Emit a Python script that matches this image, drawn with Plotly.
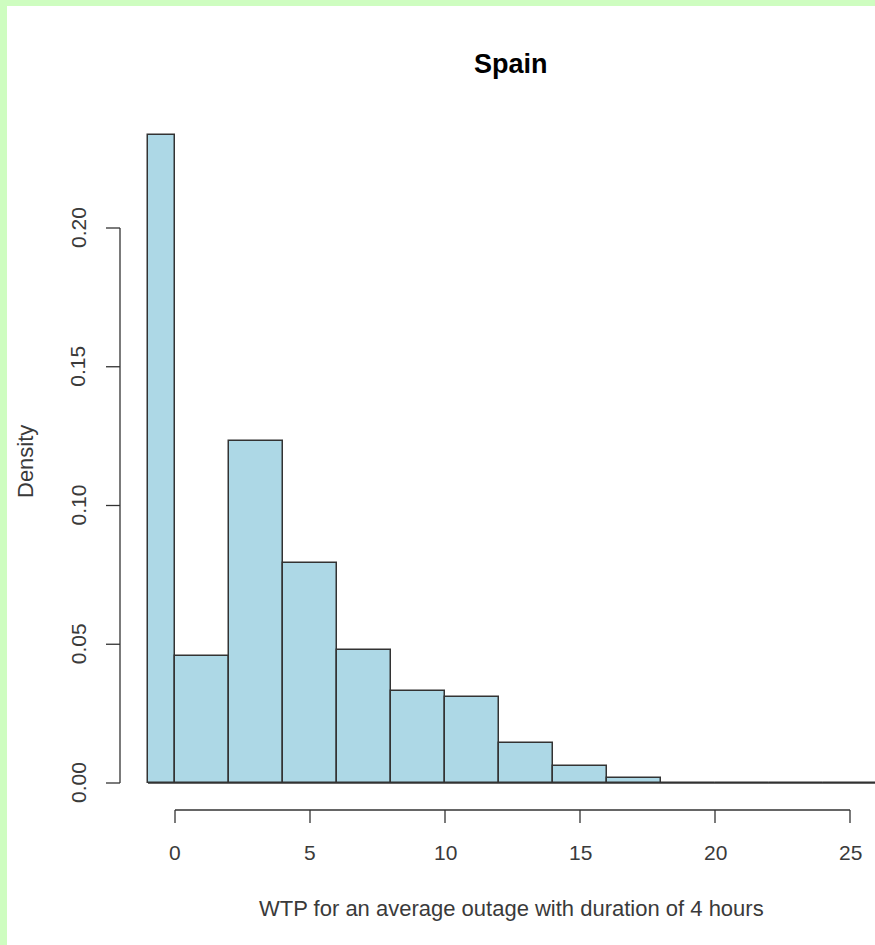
import plotly.graph_objects as go

# ---- data ----
bin_edges = [-1, 0, 2, 4, 6, 8, 10, 12, 14, 16, 18, 20, 22, 24, 26]
density = [0.2335, 0.0458, 0.1232, 0.0793, 0.0479, 0.0332, 0.0310, 0.0144,
           0.0062, 0.0018, 0.0, 0.0, 0.0, 0.0]
x_ticks = [0, 5, 10, 15, 20, 25]
y_ticks = [0.00, 0.05, 0.10, 0.15, 0.20]
y_tick_labels = ["0.00", "0.05", "0.10", "0.15", "0.20"]
title = "Spain"
x_title = "WTP for an average outage with duration of 4 hours"
y_title = "Density"

# ---- layout geometry (pixel mapping) ----
W, H = 875, 945
ML, MT = 7, 6
X0PX, XSCALE = 175.0, 27.0      # pixel of x=0, pixels per unit
Y0PX, YSCALE = 783.0, 2775.0    # pixel of y=0, pixels per unit


def px2x(px):
    return (px - X0PX) / XSCALE


def px2y(py):
    return (Y0PX - py) / YSCALE


AX = "#333333"
TXT = "#3a3a3a"
FONT = "Liberation Sans, Arial, sans-serif"

centers = [(a + b) / 2 for a, b in zip(bin_edges[:-1], bin_edges[1:])]
widths = [b - a for a, b in zip(bin_edges[:-1], bin_edges[1:])]

fig = go.Figure()
fig.add_trace(go.Bar(
    x=centers, y=density, width=widths,
    marker=dict(color="#ADD8E6", line=dict(color=AX, width=1.5)),
    hoverinfo="skip",
))

shapes = []
# baseline of the histogram (zero-height bins)
shapes.append(dict(type="line", x0=bin_edges[0], x1=bin_edges[-1], y0=0, y1=0,
                   line=dict(color=AX, width=1.5), layer="above"))

# y axis
yax_x = px2x(120)
ytick_x = px2x(106)
shapes.append(dict(type="line", x0=yax_x, x1=yax_x, y0=y_ticks[0], y1=y_ticks[-1],
                   line=dict(color=AX, width=1.3)))
for t in y_ticks:
    shapes.append(dict(type="line", x0=ytick_x, x1=yax_x, y0=t, y1=t,
                       line=dict(color=AX, width=1.3)))

# x axis
xax_y = px2y(810)
xtick_y = px2y(823)
shapes.append(dict(type="line", x0=x_ticks[0], x1=x_ticks[-1], y0=xax_y, y1=xax_y,
                   line=dict(color=AX, width=1.3)))
for t in x_ticks:
    shapes.append(dict(type="line", x0=t, x1=t, y0=xax_y, y1=xtick_y,
                       line=dict(color=AX, width=1.3)))

annotations = []
for t in x_ticks:
    annotations.append(dict(x=t, y=px2y(852), text=str(t), showarrow=False,
                            xanchor="center", yanchor="middle",
                            font=dict(family=FONT, size=21, color=TXT)))
for t, lab in zip(y_ticks, y_tick_labels):
    annotations.append(dict(x=px2x(78), y=t, text=lab, showarrow=False, textangle=-90,
                            xanchor="center", yanchor="middle",
                            font=dict(family=FONT, size=21, color=TXT)))
annotations.append(dict(x=px2x(511), y=px2y(908), text=x_title, showarrow=False,
                        xanchor="center", yanchor="middle",
                        font=dict(family=FONT, size=22, color=TXT)))
annotations.append(dict(x=px2x(25), y=px2y(462), text=y_title, showarrow=False,
                        textangle=-90, xanchor="center", yanchor="middle",
                        font=dict(family=FONT, size=22, color=TXT)))
annotations.append(dict(x=px2x(511), y=px2y(64), text="<b>" + title + "</b>",
                        showarrow=False, xanchor="center", yanchor="middle",
                        font=dict(family=FONT, size=27, color="#000000")))

fig.update_layout(
    width=W, height=H,
    margin=dict(l=ML, r=0, t=MT, b=0, pad=0),
    paper_bgcolor="#cefdc0",
    plot_bgcolor="#ffffff",
    showlegend=False,
    bargap=0,
    xaxis=dict(range=[px2x(ML), px2x(W)], visible=False, fixedrange=True),
    yaxis=dict(range=[px2y(H), px2y(MT)], visible=False, fixedrange=True),
    shapes=shapes,
    annotations=annotations,
)

fig.write_html("out.html")
